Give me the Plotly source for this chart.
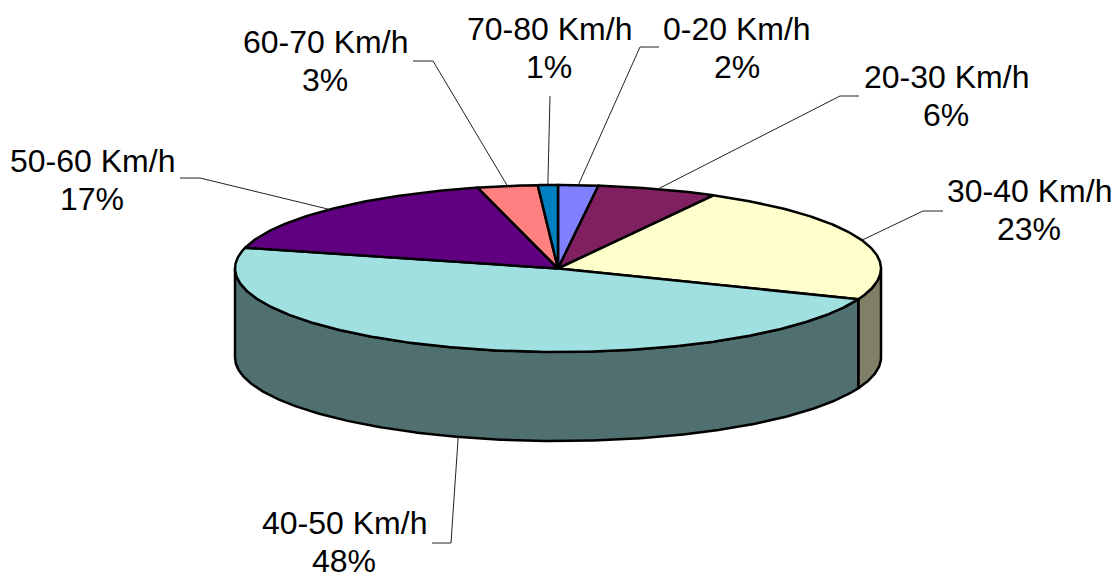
import math
import plotly.graph_objects as go

# ---- data ----
categories = ["0-20 Km/h", "20-30 Km/h", "30-40 Km/h", "40-50 Km/h", "50-60 Km/h", "60-70 Km/h", "70-80 Km/h"]
values = [2, 6, 23, 48, 17, 3, 1]
top_colors = ["#8080FF", "#802060", "#FFFFCC", "#A0E0E0", "#600080", "#FF8080", "#0080C0"]
side_colors = ["#404080", "#401030", "#808066", "#507070", "#300040", "#804040", "#004060"]

# ---- pie geometry (pixels of the 1116x576 page) ----
CX, CY, RX, RY, DEPTH = 558.0, 268.5, 323.0, 83.5, 89.0
FONT = "Liberation Sans, Arial, sans-serif"
FS = 32
LEAD = 38

# label centre x, first-line centre y, leader elbow (x,y), leader end (x,y)
label_layout = [
    (737, 29, (640, 47), (659, 47)),
    (946, 77, (840, 96), (859, 96)),
    (1029, 191, (923, 211), (943, 211)),
    (344, 523, (451, 543), (432, 543)),
    (92, 161, (200, 178), (180, 178)),
    (325, 42, (433, 61), (413, 61)),
    (549, 29, (550, 96), (550, 96)),
]


def pt(theta_deg, drop=0.0):
    t = math.radians(theta_deg)
    return CX + RX * math.sin(t), CY - RY * math.cos(t) + drop


def arc(a, b, drop=0.0):
    n = max(2, int(abs(b - a) * 2))
    return [pt(a + (b - a) * i / n, drop) for i in range(n + 1)]


total = sum(values)
edges = [0.0]
for v in values:
    edges.append(edges[-1] + 360.0 * v / total)

fig = go.Figure()


def poly(points, fill, width=2.5, color="#000000", closed=True):
    xs = [p[0] for p in points]
    ys = [p[1] for p in points]
    if closed:
        xs.append(xs[0])
        ys.append(ys[0])
    fig.add_trace(go.Scatter(
        x=xs, y=ys, mode="lines",
        fill="toself" if closed else None,
        fillcolor=fill,
        line=dict(color=color, width=width),
        hoverinfo="skip", showlegend=False,
    ))


# side walls: only the front half (90..270 degrees) is visible
for i in range(len(values)):
    a, b = max(edges[i], 90.0), min(edges[i + 1], 270.0)
    if b > a:
        poly(arc(a, b) + arc(b, a, DEPTH), side_colors[i])

# top faces
for i in range(len(values)):
    poly([(CX, CY)] + arc(edges[i], edges[i + 1]), top_colors[i])

# leader lines, anchored on the slice mid-angle
for i in range(len(values)):
    mid = (edges[i] + edges[i + 1]) / 2
    drop = DEPTH if 90 < mid < 270 else 0.0
    _, _, elbow, end = label_layout[i]
    poly([pt(mid, drop), elbow, end], None, width=1.0, color="#222222", closed=False)

annotations = []
for i, name in enumerate(categories):
    x, centre, _, _ = label_layout[i]
    for text, y in ((name, centre), (f"{values[i]}%", centre + LEAD)):
        annotations.append(dict(
            x=x, y=y, xref="x", yref="y", text=text, showarrow=False,
            xanchor="center", yanchor="middle", align="center", height=30,
            font=dict(family=FONT, size=FS, color="#000000"),
        ))

fig.update_layout(
    width=1116, height=576,
    margin=dict(l=0, r=0, t=0, b=0),
    paper_bgcolor="#FFFFFF", plot_bgcolor="#FFFFFF",
    xaxis=dict(range=[0, 1116], visible=False, fixedrange=True),
    yaxis=dict(range=[576, 0], visible=False, fixedrange=True),
    annotations=annotations,
    showlegend=False,
)
fig.write_html("out.html", config={"displayModeBar": False},
               post_script="document.body.style.margin='0';")
